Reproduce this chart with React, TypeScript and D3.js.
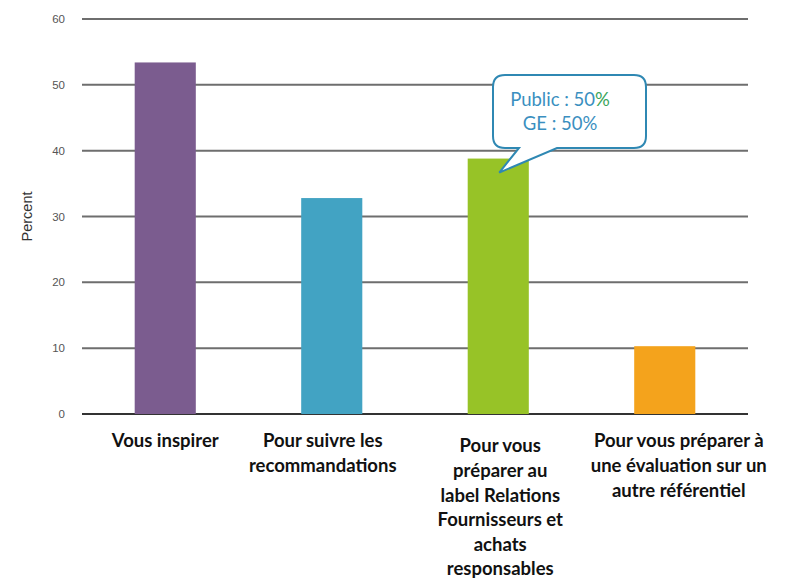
import React from "react";
import * as d3 from "d3";

const categories = [
  ["Vous inspirer"],
  ["Pour suivre les", "recommandations"],
  ["Pour vous", "préparer au", "label Relations", "Fournisseurs et", "achats", "responsables"],
  ["Pour vous préparer à", "une évaluation sur un", "autre référentiel"],
];
const values = [53.4, 32.8, 38.8, 10.3];
const colors = ["#7b5c8f", "#42a3c3", "#97c327", "#f4a31c"];
const yTicks = [0, 10, 20, 30, 40, 50, 60];
const labelDx = [0, -9, 2, 14];
const labelTop = [441, 441, 446, 441];
const calloutLines = ["Public : 50", "GE : 50%"];

const W = 785;
const H = 579;

export default function App() {
  const x = d3
    .scaleBand<number>()
    .domain(values.map((_, i) => i))
    .range([82, 748])
    .paddingInner(0.633)
    .paddingOuter(0.3165);
  const y = d3.scaleLinear().domain([0, 60]).range([414, 19]);

  const bx = x(2)! + x.bandwidth() / 2;
  const tipX = bx + 1;
  const tipY = y(values[2]) + 14;
  const box = { x0: 493, y0: 75, x1: 646, y1: 148, r: 12 };
  const tailL = 519;
  const tailR = 557;
  const p = d3.path();
  p.moveTo(box.x0 + box.r, box.y0);
  p.lineTo(box.x1 - box.r, box.y0);
  p.quadraticCurveTo(box.x1, box.y0, box.x1, box.y0 + box.r);
  p.lineTo(box.x1, box.y1 - box.r);
  p.quadraticCurveTo(box.x1, box.y1, box.x1 - box.r, box.y1);
  p.lineTo(tailR, box.y1);
  p.lineTo(tipX, tipY);
  p.lineTo(tailL, box.y1);
  p.lineTo(box.x0 + box.r, box.y1);
  p.quadraticCurveTo(box.x0, box.y1, box.x0, box.y1 - box.r);
  p.lineTo(box.x0, box.y0 + box.r);
  p.quadraticCurveTo(box.x0, box.y0, box.x0 + box.r, box.y0);
  p.closePath();

  return (
    <svg
      width={W}
      height={H}
      style={{ position: "absolute", left: 0, top: 0, background: "#fff" }}
    >
      {yTicks.map((t) => (
        <g key={t}>
          <line
            x1={82}
            x2={748}
            y1={y(t)}
            y2={y(t)}
            stroke={t === 0 ? "#333" : "#6e6e6e"}
            strokeWidth={2}
          />
          <text
            x={65}
            y={y(t)}
            dy="0.35em"
            textAnchor="end"
            fontFamily="Liberation Sans, Arial, sans-serif"
            fontSize={11.5}
            fill="#555"
          >
            {t}
          </text>
        </g>
      ))}
      <text
        transform={`translate(32,${y(30)}) rotate(-90)`}
        textAnchor="middle"
        fontFamily="Liberation Sans, Arial, sans-serif"
        fontSize={14.5}
        fill="#333"
      >
        Percent
      </text>
      {values.map((v, i) => (
        <rect
          key={i}
          x={x(i)}
          y={y(v)}
          width={x.bandwidth()}
          height={y(0) - y(v)}
          fill={colors[i]}
        />
      ))}
      {categories.map((lines, i) => (
        <text
          key={i}
          textAnchor="middle"
          fontFamily="Lato, 'Open Sans', sans-serif"
          fontWeight="bold"
          fontSize={18.5}
          fill="#111"
        >
          {lines.map((l, j) => (
            <tspan
              key={j}
              x={x(i)! + x.bandwidth() / 2 + labelDx[i]}
              y={labelTop[i] + j * 24.6}
              dy="0.35em"
            >
              {l}
            </tspan>
          ))}
        </text>
      ))}
      <path d={p.toString()} fill="#fff" stroke="#2f88b3" strokeWidth={2} />
      <text
        x={560}
        y={100}
        dy="0.35em"
        textAnchor="middle"
        fontFamily="Lato, 'Open Sans', sans-serif"
        fontSize={18.5}
        fill="#3a8fc0"
      >
        {calloutLines[0]}
        <tspan fill="#3aa55a">%</tspan>
      </text>
      <text
        x={560}
        y={124}
        dy="0.35em"
        textAnchor="middle"
        fontFamily="Lato, 'Open Sans', sans-serif"
        fontSize={18.5}
        fill="#3a8fc0"
      >
        {calloutLines[1]}
      </text>
    </svg>
  );
}
